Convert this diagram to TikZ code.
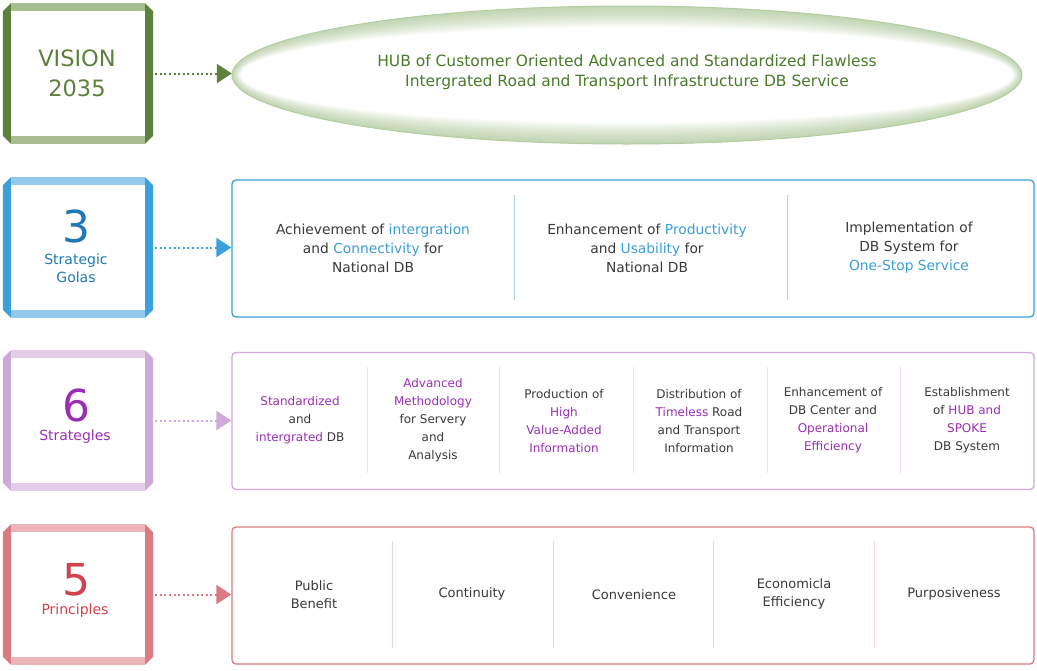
\documentclass[tikz,border=0pt]{standalone}
\usepackage{fontspec}
\setmainfont{DejaVu Sans}
\usetikzlibrary{arrows.meta, shapes.geometric, positioning, calc}
\definecolor{visgreen}{HTML}{5F7F3D}
\definecolor{vislight}{HTML}{A9BD93}
\definecolor{vistext}{HTML}{4B7A29}
\definecolor{visglow}{HTML}{9DBE84}
\definecolor{visborder}{HTML}{B4CDA0}
\definecolor{goalblue}{HTML}{3BA1DA}
\definecolor{goallight}{HTML}{93CAEC}
\definecolor{goaldark}{HTML}{1F78B5}
\definecolor{goalhl}{HTML}{3A9EDA}
\definecolor{goaldiv}{HTML}{AAD5EF}
\definecolor{stratbar}{HTML}{CFA9D7}
\definecolor{stratlight}{HTML}{E4CDE9}
\definecolor{stratdark}{HTML}{9A2FB4}
\definecolor{stratdiv}{HTML}{EBDAEE}
\definecolor{prinbar}{HTML}{DA7B83}
\definecolor{prinlight}{HTML}{ECB5B9}
\definecolor{prindark}{HTML}{CF424E}
\definecolor{prindiv}{HTML}{F3D6D9}
\definecolor{bodygray}{HTML}{3A3A3A}

\newcommand{\hlgoal}[1]{\textcolor{goalhl}{#1}}
\newcommand{\hlstrat}[1]{\textcolor{stratdark}{#1}}

% bevelled frame round a heading node: node, side colour, top colour
\newcommand{\bevelframe}[3]{%
  \fill[#3] ($(#1.north west)+(8,0)$) -- ($(#1.north east)+(-8,0)$) -- ($(#1.north east)+(-8,8)$) -- ($(#1.north west)+(8,8)$) -- cycle;
  \fill[#3] ($(#1.south west)+(8,0)$) -- ($(#1.south east)+(-8,0)$) -- ($(#1.south east)+(-8,-8)$) -- ($(#1.south west)+(8,-8)$) -- cycle;
  \fill[#2] ($(#1.north west)+(0,8)$) -- ($(#1.north west)+(8,0)$) -- ($(#1.south west)+(8,0)$) -- ($(#1.south west)+(0,-8)$) -- cycle;
  \fill[#2] ($(#1.north east)+(0,8)$) -- ($(#1.north east)+(-8,0)$) -- ($(#1.south east)+(-8,0)$) -- ($(#1.south east)+(0,-8)$) -- cycle;}

\tikzset{
  headbox/.style={minimum width=150pt, minimum height=140pt, inner sep=0pt},
  rowbox/.style={draw=#1, line width=1.3pt, rounded corners=4pt, minimum width=802pt, minimum height=137pt, inner sep=0pt, fill=white},
  linkarrow/.style={draw=#1, line width=2pt, dash pattern=on 2pt off 2.6pt, shorten <=2pt, -{Triangle[length=15pt,width=19pt,fill=#1]}},
  coltext/.style={align=center, text=bodygray, inner sep=0pt},
}

\begin{document}
\begin{tikzpicture}[x=1pt, y=-1pt]
  \useasboundingbox (0,0) rectangle (1037,670);
  \fill[white] (0,0) rectangle (1037,670);

  % Vision
  \node[headbox] (vision) at (78,73.5) {};
  \bevelframe{vision}{visgreen}{vislight}
  \node[align=center, text=visgreen, font=\fontsize{22.5}{30}\selectfont] (visionlbl) at (77,73) {VISION\\2035};

  \node[ellipse, minimum width=790pt, minimum height=138pt, inner sep=0pt] (visiontext) at (627,75) {};
  \foreach \k in {1,...,14}
    \fill[visglow, opacity=0.06, even odd rule] (visiontext.center) circle[x radius=395pt, y radius=69pt]
      (visiontext.center) circle[x radius={(395-0.6*\k)*1pt}, y radius={(69-1.5*\k)*1pt}];
  \draw[visborder, line width=1pt] (visiontext.center) circle[x radius=395pt, y radius=69pt];
  \node[align=center, text=vistext, font=\fontsize{15.5}{20}\selectfont] (visionmsg) at (627,72)
    {HUB of Customer Oriented Advanced and Standardized Flawless\\Intergrated Road and Transport Infrastructure DB Service};
  \draw[linkarrow=visgreen] (vision.east) -- (vision.east -| visiontext.west);

  % 3 Strategic Goals
  \node[headbox] (goals) at (78,247.5) {};
  \bevelframe{goals}{goalblue}{goallight}
  \node[text=goaldark, font=\fontsize{44}{44}\selectfont, inner sep=0pt] (goalsnum) at (76,226) {3};
  \node[align=center, text=goaldark, font=\fontsize{14}{18}\selectfont] (goalslbl) at (76,268) {Strategic\\Golas};

  \node[rowbox=goalblue] (goalsbox) at (633,248.5) {};
  \draw[linkarrow=goalblue] (goals.east) -- (goals.east -| goalsbox.west);
  \foreach \x in {514,787}
    \draw[goaldiv, line width=0.8pt] (\x,195) -- (\x,300);
  \begin{scope}[every node/.style={coltext, font=\fontsize{13.8}{19}\selectfont}]
    \node (goalA) at (373,248) {Achievement of \hlgoal{intergration}\\and \hlgoal{Connectivity} for\\National DB};
    \node (goalB) at (647,248) {Enhancement of \hlgoal{Productivity}\\and \hlgoal{Usability} for\\National DB};
    \node (goalC) at (909,248) {Implementation of\\DB System for\\\hlgoal{One-Stop Service}};
  \end{scope}

  % 6 Strategies
  \node[headbox] (strat) at (78,420.5) {};
  \bevelframe{strat}{stratbar}{stratlight}
  \node[text=stratdark, font=\fontsize{44}{44}\selectfont, inner sep=0pt] (stratnum) at (76,405) {6};
  \node[text=stratdark, font=\fontsize{14}{18}\selectfont] (stratlbl) at (75,437) {Strategles};

  \node[rowbox=stratbar] (stratbox) at (633,421) {};
  \draw[linkarrow=stratbar] (strat.east) -- (strat.east -| stratbox.west);
  \foreach \x in {367,499,633,767,900}
    \draw[stratdiv, line width=0.8pt] (\x,367) -- (\x,473);
  \begin{scope}[every node/.style={coltext, font=\fontsize{12}{18}\selectfont}]
    \node (stratA) at (300,420) {\hlstrat{Standardized}\\and\\\hlstrat{intergrated} DB};
    \node (stratB) at (433,420) {\hlstrat{Advanced}\\\hlstrat{Methodology}\\for Servery\\and\\Analysis};
    \node (stratC) at (564,421) {Production of\\\hlstrat{High}\\\hlstrat{Value-Added}\\\hlstrat{Information}};
    \node (stratD) at (699,421) {Distribution of\\\hlstrat{Timeless} Road\\and Transport\\Information};
    \node (stratE) at (833,420) {Enhancement of\\DB Center and\\\hlstrat{Operational}\\\hlstrat{Efficiency}};
    \node (stratF) at (967,420) {Establishment\\of \hlstrat{HUB and}\\\hlstrat{SPOKE}\\DB System};
  \end{scope}

  % 5 Principles
  \node[headbox] (princ) at (78,594.5) {};
  \bevelframe{princ}{prinbar}{prinlight}
  \node[text=prindark, font=\fontsize{44}{44}\selectfont, inner sep=0pt] (princnum) at (76,580) {5};
  \node[text=prindark, font=\fontsize{14}{18}\selectfont] (princlbl) at (75,611) {Principles};

  \node[rowbox=prinbar] (princbox) at (633,595.5) {};
  \draw[linkarrow=prinbar] (princ.east) -- (princ.east -| princbox.west);
  \foreach \x in {392,553,713,874}
    \draw[prindiv, line width=0.8pt] (\x,541) -- (\x,648);
  \begin{scope}[every node/.style={coltext, font=\fontsize{13}{18}\selectfont}]
    \node (princA) at (314,595) {Public\\Benefit};
    \node (princB) at (472,594) {Continuity};
    \node (princC) at (634,595) {Convenience};
    \node (princD) at (794,594) {Economicla\\Efficiency};
    \node (princE) at (954,594) {Purposiveness};
  \end{scope}
\end{tikzpicture}
\end{document}
